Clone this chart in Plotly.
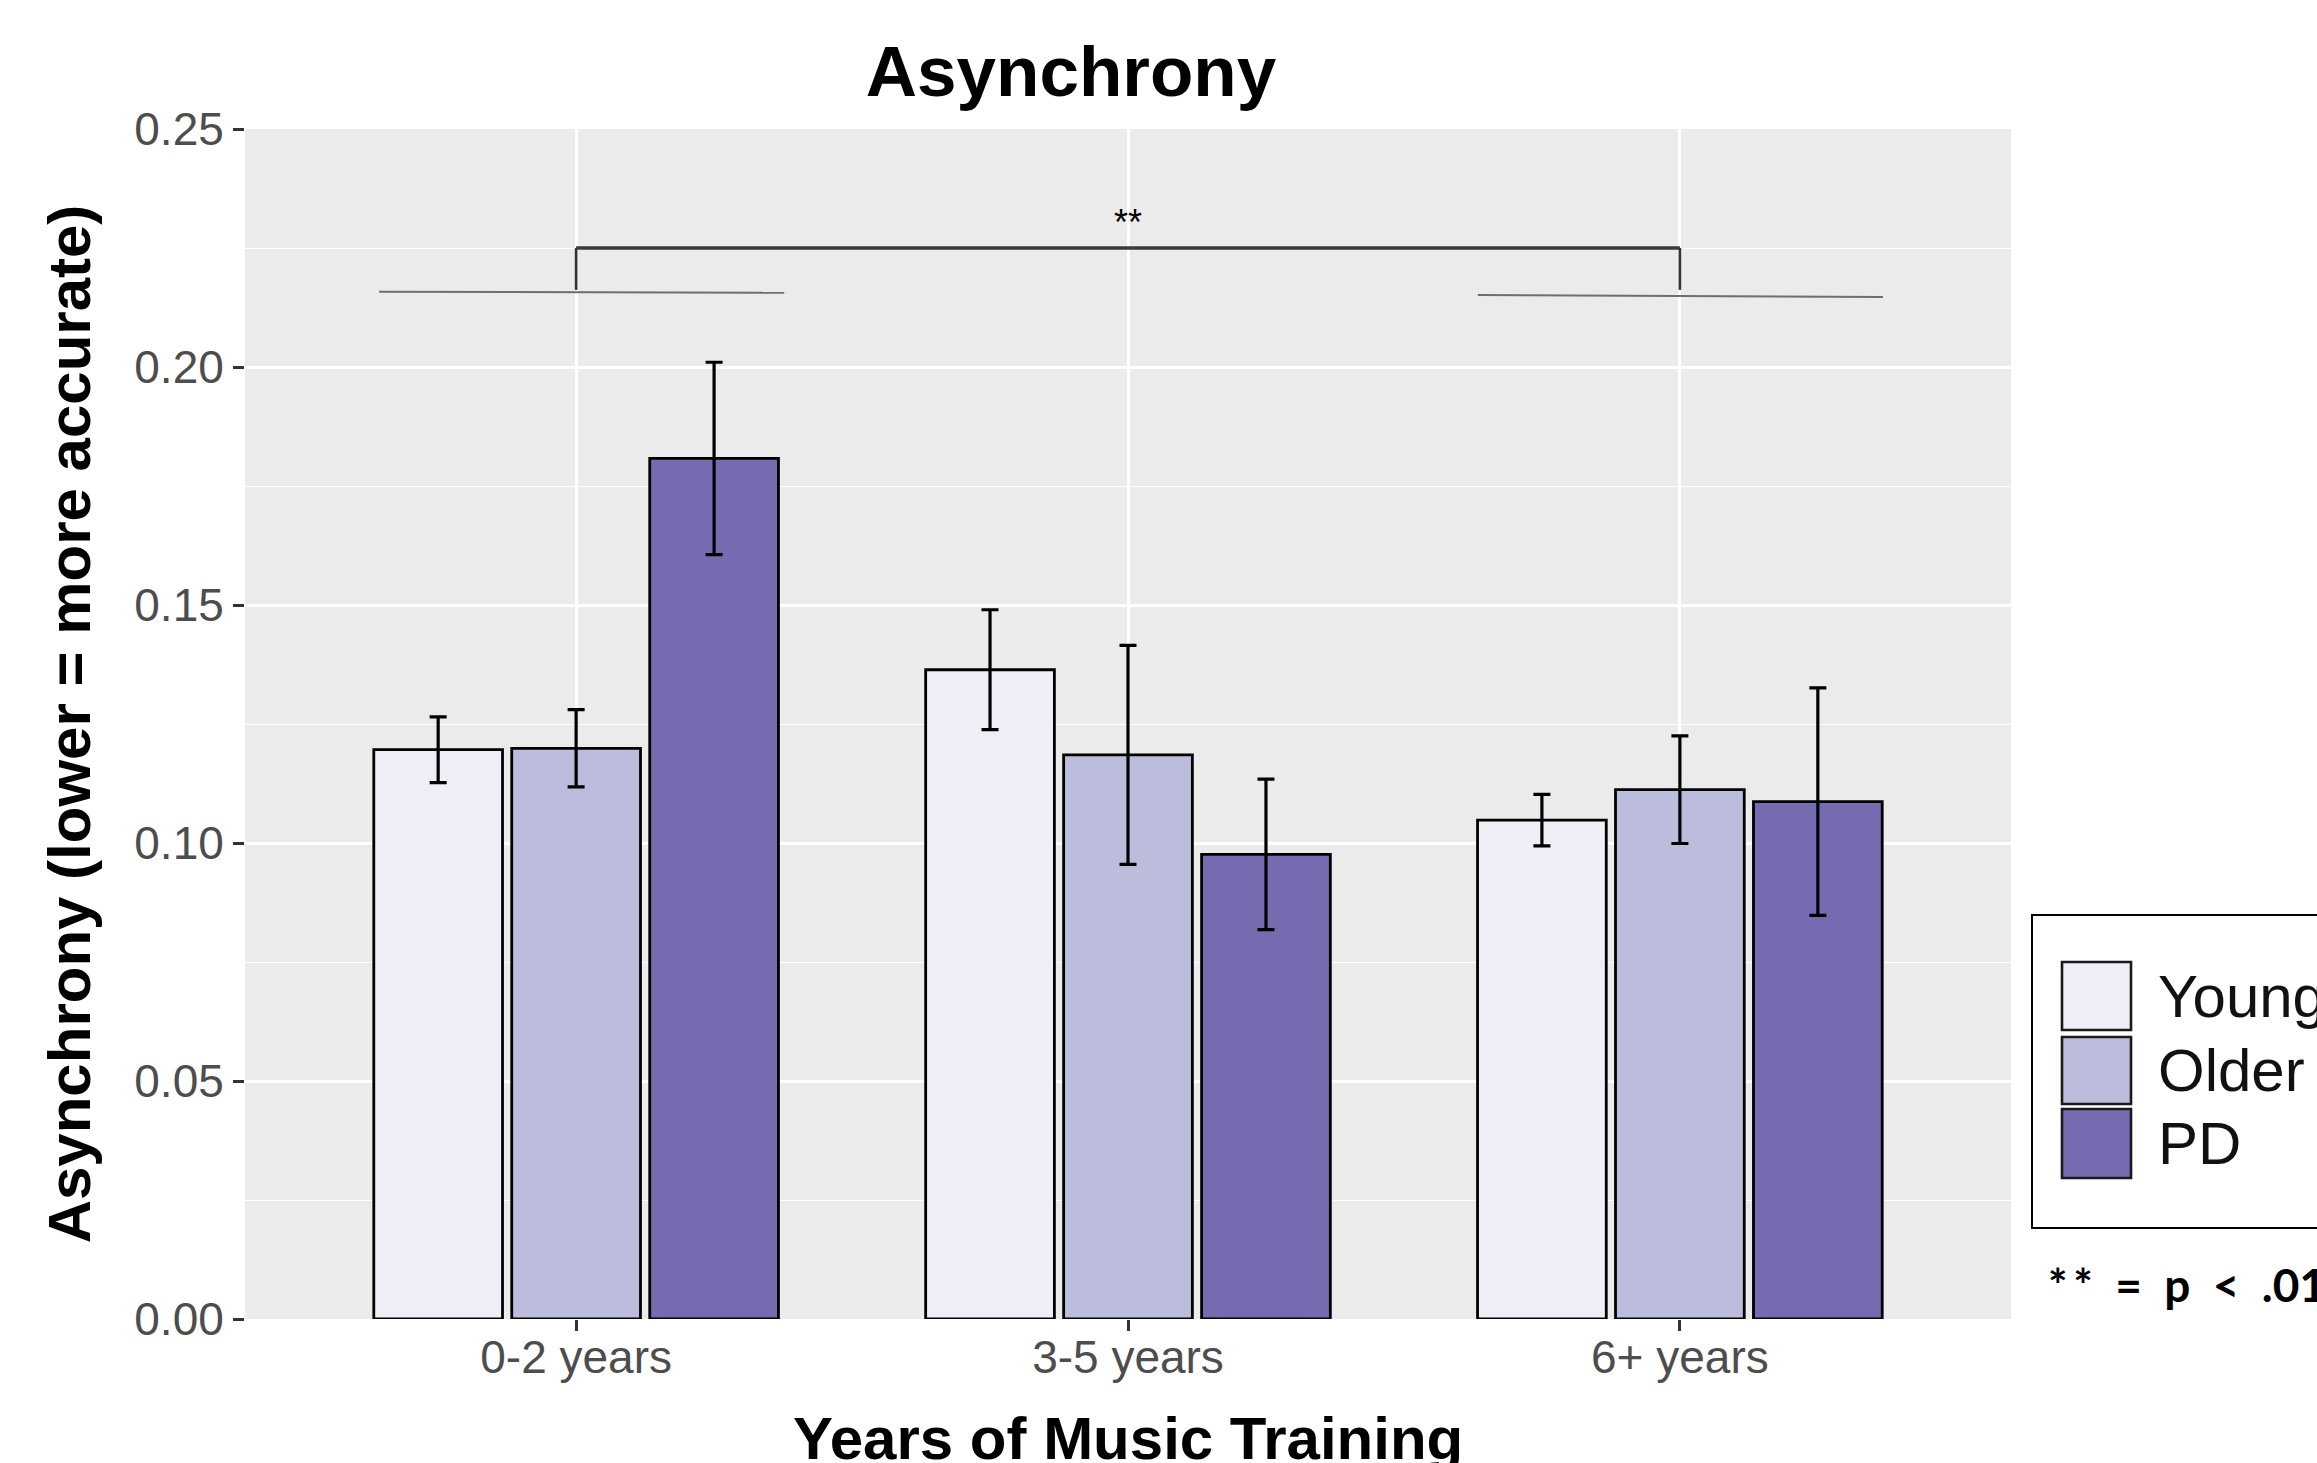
import plotly.graph_objects as go

# ---- data -------------------------------------------------------------
CATEGORIES = ["0-2 years", "3-5 years", "6+ years"]
GROUPS = ["Young", "Older", "PD"]

YOUNG_MEAN = [0.1196, 0.1364, 0.1048]
YOUNG_SE = [0.0069, 0.0126, 0.0054]
OLDER_MEAN = [0.1199, 0.1185, 0.1112]
OLDER_SE = [0.0081, 0.0230, 0.0113]
PD_MEAN = [0.1808, 0.0976, 0.1087]
PD_SE = [0.0202, 0.0158, 0.0239]

Y_TICKS = [0.00, 0.05, 0.10, 0.15, 0.20, 0.25]
Y_TICK_TEXT = ["0.00", "0.05", "0.10", "0.15", "0.20", "0.25"]

# significance bracket between the 0-2 and 6+ groups
SIG_FROM = 0            # category index
SIG_TO = 2
SIG_BAR_Y = 0.2250
SIG_TIP_Y = 0.2162
SIG_LABEL = "**"
SIG_LABEL_Y = 0.2303
# lines spanning each compared group (left end, right end relative to centre; y at ends)
GROUP_SPAN_LEFT = [-0.357, 0.377]
GROUP_SPAN_LEFT_Y = [0.2158, 0.2156]
GROUP_SPAN_RIGHT = [-0.366, 0.368]
GROUP_SPAN_RIGHT_Y = [0.2151, 0.2147]

COLORS = ["#efedf5", "#bcbddc", "#756bb1"]
NB = "\u00a0"
FOOTNOTE = "*" + "\u2009" + "*" + NB * 2 + "=" + NB * 2 + "p" + NB * 2 + "<" + NB * 2 + ".01"
X_TITLE = "Years of Music Training"
Y_TITLE = "Asynchrony (lower = more accurate)"

# ---- figure ----------------------------------------------------------
W, H = 2317, 1463
ML, MR, MT, MB = 245, 306, 129, 144
PW, PH = W - ML - MR, H - MT - MB


def px_x(px):
    return (px - ML) / PW


def px_y(py):
    return (H - MB - py) / PH


fig = go.Figure()
means = [YOUNG_MEAN, OLDER_MEAN, PD_MEAN]
ses = [YOUNG_SE, OLDER_SE, PD_SE]
for name, m, se, col in zip(GROUPS, means, ses, COLORS):
    fig.add_trace(go.Bar(
        name=name, x=CATEGORIES, y=m, showlegend=False,
        marker=dict(color=col, line=dict(color="#000000", width=2.8)),
        error_y=dict(type="data", array=se, visible=True,
                     color="#000000", thickness=3.2, width=8.5),
    ))

shapes = []
# bracket
shapes.append(dict(type="line", xref="x", yref="y", x0=SIG_FROM, x1=SIG_FROM,
                   y0=SIG_TIP_Y, y1=SIG_BAR_Y, line=dict(color="#333333", width=2.6)))
shapes.append(dict(type="line", xref="x", yref="y", x0=SIG_FROM, x1=SIG_TO,
                   y0=SIG_BAR_Y, y1=SIG_BAR_Y, line=dict(color="#3a3a3a", width=3.5)))
shapes.append(dict(type="line", xref="x", yref="y", x0=SIG_TO, x1=SIG_TO,
                   y0=SIG_TIP_Y, y1=SIG_BAR_Y, line=dict(color="#333333", width=2.6)))
# group span lines
shapes.append(dict(type="line", xref="x", yref="y",
                   x0=SIG_FROM + GROUP_SPAN_LEFT[0], x1=SIG_FROM + GROUP_SPAN_LEFT[1],
                   y0=GROUP_SPAN_LEFT_Y[0], y1=GROUP_SPAN_LEFT_Y[1],
                   line=dict(color="#6e6e6e", width=2)))
shapes.append(dict(type="line", xref="x", yref="y",
                   x0=SIG_TO + GROUP_SPAN_RIGHT[0], x1=SIG_TO + GROUP_SPAN_RIGHT[1],
                   y0=GROUP_SPAN_RIGHT_Y[0], y1=GROUP_SPAN_RIGHT_Y[1],
                   line=dict(color="#6e6e6e", width=2)))

# legend box and keys
shapes.append(dict(type="rect", xref="paper", yref="paper",
                   x0=px_x(2032), x1=px_x(2420), y0=px_y(1228), y1=px_y(915),
                   line=dict(color="#000000", width=2), fillcolor="rgba(0,0,0,0)"))
key_rows = [(962, 1030), (1037, 1104), (1109, 1178)]
annotations = []
for (t, b), col, name in zip(key_rows, COLORS, GROUPS):
    shapes.append(dict(type="rect", xref="paper", yref="paper",
                       x0=px_x(2062), x1=px_x(2131), y0=px_y(b), y1=px_y(t),
                       line=dict(color="#1a1a1a", width=2.6), fillcolor=col))
    annotations.append(dict(xref="paper", yref="paper", x=px_x(2156), y=px_y((t + b) / 2),
                            xanchor="left", yanchor="middle", showarrow=False, text=name,
                            font=dict(family="Liberation Sans, Arial", size=60, color="#111111")))

annotations.append(dict(xref="x", yref="y", x=(SIG_FROM + SIG_TO) / 2, y=SIG_LABEL_Y,
                        xanchor="center", yanchor="middle", showarrow=False, text=SIG_LABEL,
                        font=dict(family="Liberation Sans, Arial", size=36, color="#000000")))
annotations.append(dict(xref="paper", yref="paper", x=px_x(2046), y=px_y(1284),
                        xanchor="left", yanchor="middle", showarrow=False,
                        text="<b>" + FOOTNOTE + "</b>",
                        font=dict(family="Lato, Open Sans", size=46, color="#000000")))
# x-axis title sits low enough to run past the bottom edge
annotations.append(dict(xref="paper", yref="paper", x=0.5, y=px_y(1438),
                        xanchor="center", yanchor="middle", showarrow=False,
                        text="<b>" + X_TITLE + "</b>",
                        font=dict(family="Liberation Sans, Arial", size=60, color="#000000")))

fig.update_layout(
    width=W, height=H,
    margin=dict(l=ML, r=MR, t=MT, b=MB, pad=0, autoexpand=False),
    paper_bgcolor="#ffffff", plot_bgcolor="#ebebeb",
    barmode="group", bargap=0.25, bargroupgap=0.067,
    title=dict(text="<b>Asynchrony</b>", xref="container", yref="container",
               x=1071 / W, xanchor="center", y=1 - 71 / H, yanchor="middle",
               font=dict(family="Liberation Sans, Arial", size=71, color="#000000")),
    xaxis=dict(
        type="category", range=[-0.6, 2.6], automargin=False,
        showgrid=True, gridcolor="#ffffff", gridwidth=3,
        ticks="outside", ticklen=11, tickwidth=2.5, tickcolor="#333333",
        ticklabelstandoff=-13,
        tickfont=dict(family="Liberation Sans, Arial", size=46, color="#4d4d4d"),
        showline=False, zeroline=False,
    ),
    yaxis=dict(
        range=[0, 0.25], automargin=False,
        tickvals=Y_TICKS, ticktext=Y_TICK_TEXT,
        showgrid=True, gridcolor="#ffffff", gridwidth=3,
        minor=dict(dtick=0.025, tick0=0, showgrid=True, gridcolor="#ffffff", gridwidth=1.4, ticks=""),
        ticks="outside", ticklen=11, tickwidth=2.5, tickcolor="#333333",
        tickfont=dict(family="Liberation Sans, Arial", size=46, color="#4d4d4d"),
        showline=False, zeroline=False,
        title=dict(text="<b>" + Y_TITLE + "</b>", standoff=24,
                   font=dict(family="Liberation Sans, Arial", size=60, color="#000000")),
    ),
    shapes=shapes,
    annotations=annotations,
    template="none",
)

fig.write_html("out.html", config={"responsive": False, "displayModeBar": False})
